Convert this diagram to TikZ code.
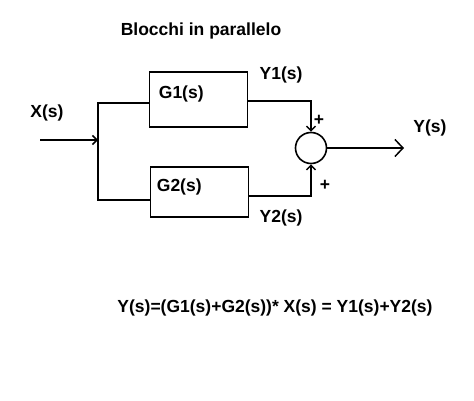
\documentclass[tikz,border=0pt]{standalone}
\usepackage{fontspec}
\setmainfont{Liberation Sans}
\usetikzlibrary{arrows.meta, positioning}
\tikzstyle{block} = [draw, rectangle, line width=1.6pt, minimum width=98pt, inner sep=0pt]
\tikzstyle{sum} = [draw, circle, line width=1.6pt, minimum size=31pt, inner sep=0pt]
\tikzstyle{label} = [font=\fontsize{17.5}{20}\selectfont\bfseries, inner sep=0pt]
\tikzstyle{wire} = [line width=1.5pt]
\tikzstyle{path} = [wire, -{Straight Barb[length=4.5pt, width=9pt, line width=1.5pt]}]
\tikzstyle{outpath} = [wire, -{Straight Barb[length=8pt, width=17pt, line width=1.5pt]}]

\begin{document}
\begin{tikzpicture}[x=1pt, y=-1pt, node distance=7pt]
    \useasboundingbox (0,0) rectangle (474,401);

    % Title.
    \node (title) [label] at (201,31) {Blocchi in parallelo};

    % Blocks.
    \node (g1) [block, minimum height=55pt] at (198.5,99.5) {};
    \node (g2) [block, minimum height=50pt] at (199.5,192) {};
    \node (g1text) [label, below right=23pt and 10pt of g1.north west, anchor=west] {G1(s)};
    \node (g2text) [label, below right=21pt and 7pt of g2.north west, anchor=west] {G2(s)};

    % Summing junction.
    \node (summer) [sum] at (311,148) {};

    % Ends.
    \coordinate (input) at (40,140);
    \coordinate (split) at (98,140);
    \coordinate (output) at (404,148);

    % Labels.
    \node (xs) [label] at (47,113) {X(s)};
    \node (ys) [label] at (430,128) {Y(s)};
    \node (y1s) [label] at (281,75) {Y1(s)};
    \node (y2s) [label] at (281,218) {Y2(s)};
    \node (plus1) [label] at (319,120) {+};
    \node (plus2) [label] at (325,185) {+};

    % Arrows.
    \draw [path] (input) -- (split);
    \draw [wire] ([yshift=-3.5pt]g1.west) -| (split) |- ([yshift=-8pt]g2.west);
    \draw [path] ([yshift=-1.5pt]g1.east) -| (summer.north);
    \draw [path] ([yshift=-4pt]g2.east) -| (summer.south);
    \draw [outpath] (summer.east) -- (output);

    % Equation.
    \node (equation) [label] at (275,308) {Y(s)=(G1(s)+G2(s))* X(s) = Y1(s)+Y2(s)};
\end{tikzpicture}
\end{document}
